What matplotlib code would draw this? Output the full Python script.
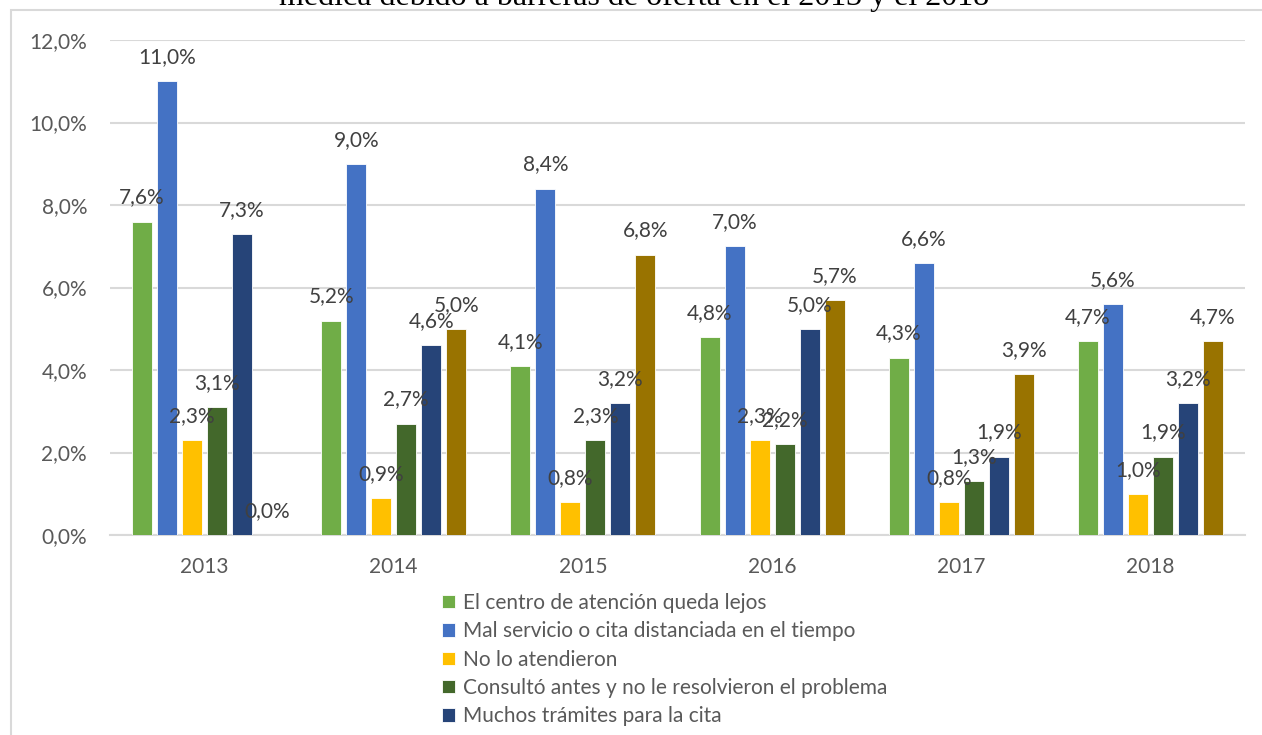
import numpy as np
import matplotlib.pyplot as plt
from matplotlib.patches import Rectangle

# data (percent)
years = ['2013', '2014', '2015', '2016', '2017', '2018']
series_names = [
    'El centro de atención queda lejos',
    'Mal servicio o cita distanciada en el tiempo',
    'No lo atendieron',
    'Consultó antes y no le resolvieron el problema',
    'Muchos trámites para la cita',
    'No confía en los médicos',
]
lejos = [7.6, 5.2, 4.1, 4.8, 4.3, 4.7]
mal_servicio = [11.0, 9.0, 8.4, 7.0, 6.6, 5.6]
no_atendieron = [2.3, 0.9, 0.8, 2.3, 0.8, 1.0]
no_resolvieron = [3.1, 2.7, 2.3, 2.2, 1.3, 1.9]
tramites = [7.3, 4.6, 3.2, 5.0, 1.9, 3.2]
otro = [0.0, 5.0, 6.8, 5.7, 3.9, 4.7]
yticks = [0, 2, 4, 6, 8, 10, 12]

colors = ['#70AD47', '#4472C4', '#FFC000', '#43682B', '#264478', '#997300']
series = [lejos, mal_servicio, no_atendieron, no_resolvieron, tramites, otro]

plt.rcParams['font.family'] = ['Lato', 'DejaVu Sans']
FS = 15
GRAY_TXT = '#404040'

W, H = 1262, 735
fig = plt.figure(figsize=(W / 100, H / 100), dpi=100)
ax = fig.add_axes([110 / W, 1 - 535 / H, (1245 - 110) / W, (535 - 40) / H])

x = np.arange(len(years))
pitch = 25 / 189
width = 20 / 189
for i, (vals, col, name) in enumerate(zip(series, colors, series_names)):
    pos = x + (i - 2.5) * pitch
    bars = ax.bar(pos, vals, width, color=col, edgecolor='white', linewidth=0.6,
                  label=name, zorder=3)
    for b, v in zip(bars, vals):
        ax.annotate(f'{v:.1f}%'.replace('.', ','),
                    (b.get_x() + b.get_width() / 2, v),
                    xytext=(0, 13), textcoords='offset points',
                    ha='center', va='baseline', fontsize=FS, color=GRAY_TXT, zorder=5)

ax.set_xlim(-0.5, len(years) - 0.5)
ax.set_ylim(0, 12)
ax.set_yticks(yticks)
ax.set_yticklabels([f'{t:.1f}%'.replace('.', ',') for t in yticks])
ax.set_xticks(x)
ax.set_xticklabels(years)
ax.tick_params(axis='both', length=0, labelsize=FS, labelcolor='#595959')
ax.tick_params(axis='y', pad=16.5)
ax.tick_params(axis='x', pad=16)
ax.grid(axis='y', color='#D9D9D9', linewidth=1.5, zorder=0)
for s in ['top', 'right', 'left']:
    ax.spines[s].set_visible(False)
ax.spines['bottom'].set_color('#D9D9D9')
ax.spines['bottom'].set_linewidth(1.5)

leg = ax.legend(loc='upper left', bbox_to_anchor=(442 / W, 1 - 593 / H),
                bbox_transform=fig.transFigure, frameon=False, ncol=1,
                fontsize=FS, handlelength=0.62, handleheight=0.62,
                handletextpad=0.4, labelspacing=0.4, borderpad=0, borderaxespad=0)
for t in leg.get_texts():
    t.set_color('#595959')

# chart border (cut off on the right and bottom in the reference)
fig.patches.append(Rectangle((11 / W, -0.1), 1.2, 1.1 - 10 / H,
                             transform=fig.transFigure, fill=False,
                             edgecolor='#D9D9D9', linewidth=1.5))

# title, mostly cropped off the top
fig.text(634 / W, 1 - 5.5 / H,
         'médica debido a barreras de oferta en el 2013 y el 2018',
         ha='center', va='baseline', fontsize=23, family='Liberation Serif')

fig.savefig('out.png', dpi=100)
